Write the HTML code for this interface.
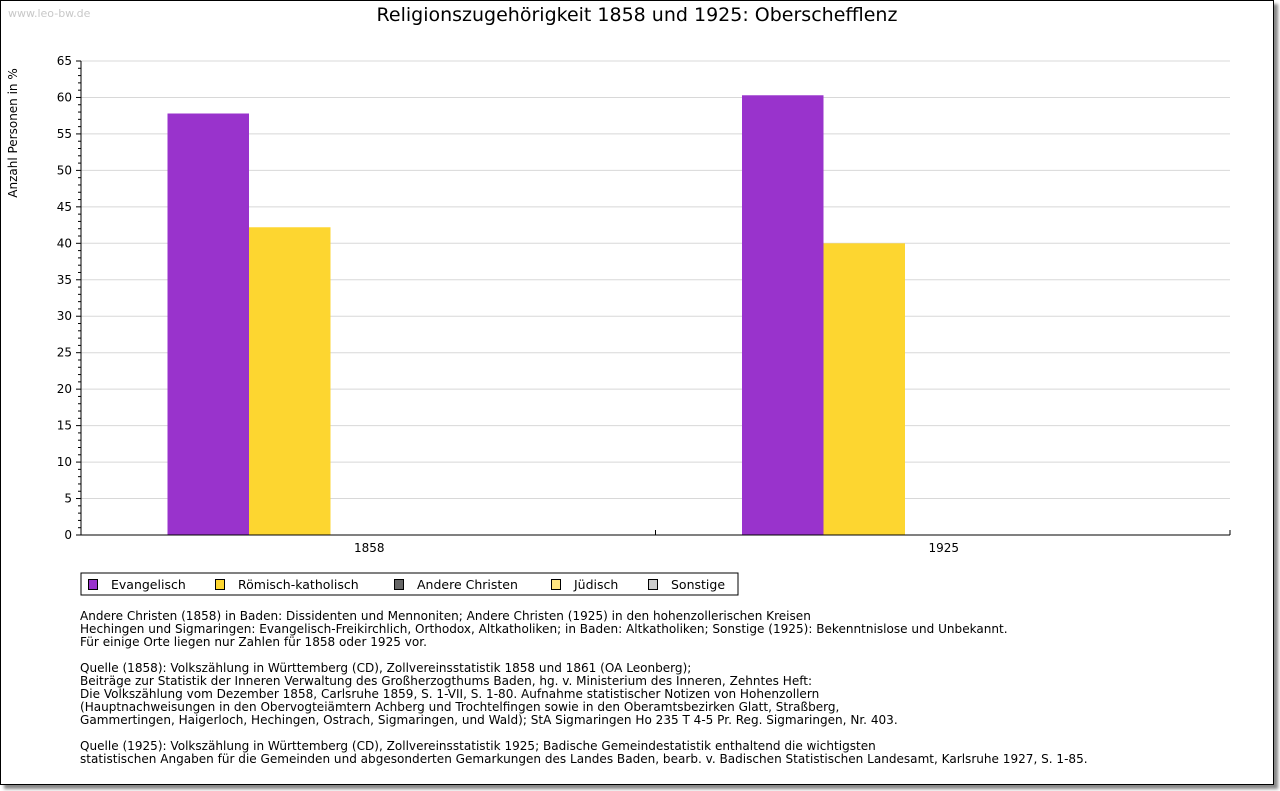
<!DOCTYPE html>
<html><head><meta charset="utf-8"><style>
body{margin:0;background:#fff;width:1280px;height:791px;overflow:hidden;font-family:"DejaVu Sans","Liberation Sans",sans-serif}
#frame{position:absolute;left:0;top:0;width:1272px;height:783px;border:1px solid #000;box-shadow:4px 4px 3px #888;background:#fff}
.note{position:absolute;left:80px;font-size:12.05px;line-height:13px;color:#000;white-space:pre}
</style></head><body>
<div id="frame"></div>
<svg width="1280" height="791" style="position:absolute;left:0;top:0" id="chart">
<text x="8" y="17" font-size="11" fill="#c8c8c8">www.leo-bw.de</text>
<text x="637" y="21" font-size="19" text-anchor="middle">Religionszugehörigkeit 1858 und 1925: Oberschefflenz</text>
<text transform="translate(17,133) rotate(-90)" font-size="12" text-anchor="middle">Anzahl Personen in %</text>
<g id="grid"></g><g id="bars"></g><g id="axes"></g>
<g>
<rect x="81" y="573" width="657" height="22" fill="#fff" stroke="#000"/>
<g id="legend"></g>
</g>
</svg>
<div class="note" style="top:610px">Andere Christen (1858) in Baden: Dissidenten und Mennoniten; Andere Christen (1925) in den hohenzollerischen Kreisen
Hechingen und Sigmaringen: Evangelisch-Freikirchlich, Orthodox, Altkatholiken; in Baden: Altkatholiken; Sonstige (1925): Bekenntnislose und Unbekannt.
Für einige Orte liegen nur Zahlen für 1858 oder 1925 vor.</div>
<div class="note" style="top:662px">Quelle (1858): Volkszählung in Württemberg (CD), Zollvereinsstatistik 1858 und 1861 (OA Leonberg);
Beiträge zur Statistik der Inneren Verwaltung des Großherzogthums Baden, hg. v. Ministerium des Inneren, Zehntes Heft:
Die Volkszählung vom Dezember 1858, Carlsruhe 1859, S. 1-VII, S. 1-80. Aufnahme statistischer Notizen von Hohenzollern
(Hauptnachweisungen in den Obervogteiämtern Achberg und Trochtelfingen sowie in den Oberamtsbezirken Glatt, Straßberg,
Gammertingen, Haigerloch, Hechingen, Ostrach, Sigmaringen, und Wald); StA Sigmaringen Ho 235 T 4-5 Pr. Reg. Sigmaringen, Nr. 403.</div>
<div class="note" style="top:740px">Quelle (1925): Volkszählung in Württemberg (CD), Zollvereinsstatistik 1925; Badische Gemeindestatistik enthaltend die wichtigsten
statistischen Angaben für die Gemeinden und abgesonderten Gemarkungen des Landes Baden, bearb. v. Badischen Statistischen Landesamt, Karlsruhe 1927, S. 1-85.</div>
<script>
const categories=["1858","1925"];
const seriesNames=["Evangelisch","Römisch-katholisch","Andere Christen","Jüdisch","Sonstige"];
const seriesColors=["#9933cc","#fdd630","#666666","#ffe680","#cccccc"];
const evangelisch=[57.8,60.3];
const katholisch=[42.2,40.0];
const andereChristen=[0,0];
const juedisch=[0,0];
const sonstige=[0,0];
const yTicks=[0,5,10,15,20,25,30,35,40,45,50,55,60,65];
const series=[evangelisch,katholisch,andereChristen,juedisch,sonstige];
const NS="http://www.w3.org/2000/svg";
const X0=81,X1=1230,Y0=535,Y1=61,YMAX=65;
const y=v=>Y0-(v/YMAX)*(Y0-Y1);
const bandW=(X1-X0)/categories.length;
const barW=81.5;
function mk(tag,attrs,parent){const e=document.createElementNS(NS,tag);for(const k in attrs)e.setAttribute(k,attrs[k]);parent.appendChild(e);return e;}
const grid=document.getElementById('grid'),bars=document.getElementById('bars'),axes=document.getElementById('axes'),legend=document.getElementById('legend');
yTicks.forEach(t=>{
 if(t>0){const l=mk('line',{x1:X0,x2:X1,y1:y(t),y2:y(t),stroke:'#d8d8d8'},grid);
 
 }
 mk('line',{x1:X0-5,x2:X0,y1:y(t),y2:y(t),stroke:'#000'},axes);
 const tx=mk('text',{x:X0-9,y:y(t)+4,'font-size':12,'text-anchor':'end'},axes);tx.textContent=t;
 
 
});
for(let v=0;v<YMAX;v++){if(v%5)mk('line',{x1:X0-3,x2:X0,y1:y(v),y2:y(v),stroke:'#000'},axes);}
categories.forEach((c,i)=>{
 const cx=X0+bandW*(i+0.5);
 const start=cx-barW*series.length/2+3;
 series.forEach((s,j)=>{
  if(s[i]<=0)return;
  const r=mk('rect',{x:start+j*barW,y:y(s[i]),width:barW,height:Y0-y(s[i]),fill:seriesColors[j]},bars);
  
  
 });
 const tx=mk('text',{x:cx+1,y:Y0+17,'font-size':12,'text-anchor':'middle'},axes);tx.textContent=c;
 
 
 if(i>0)mk('line',{x1:X0+bandW*i,x2:X0+bandW*i,y1:Y0,y2:Y0-5,stroke:'#000'},axes);
});
mk('line',{x1:X1,x2:X1,y1:Y0,y2:Y0-5,stroke:'#000'},axes);
mk('line',{x1:X0,x2:X0,y1:Y1,y2:Y0,stroke:'#000'},axes);
mk('line',{x1:X0,x2:X1,y1:Y0,y2:Y0,stroke:'#000'},axes);
const lx=[88,215,394,551,648];
seriesNames.forEach((n,j)=>{
 const g=mk('g',{},legend);
 
 
 mk('rect',{x:lx[j]+0.5,y:579.5,width:9,height:10,fill:seriesColors[j],stroke:'#000'},g);
 const t=mk('text',{x:lx[j]+23,y:589,'font-size':12.5},g);t.textContent=n;
});
</script>
</body></html>
